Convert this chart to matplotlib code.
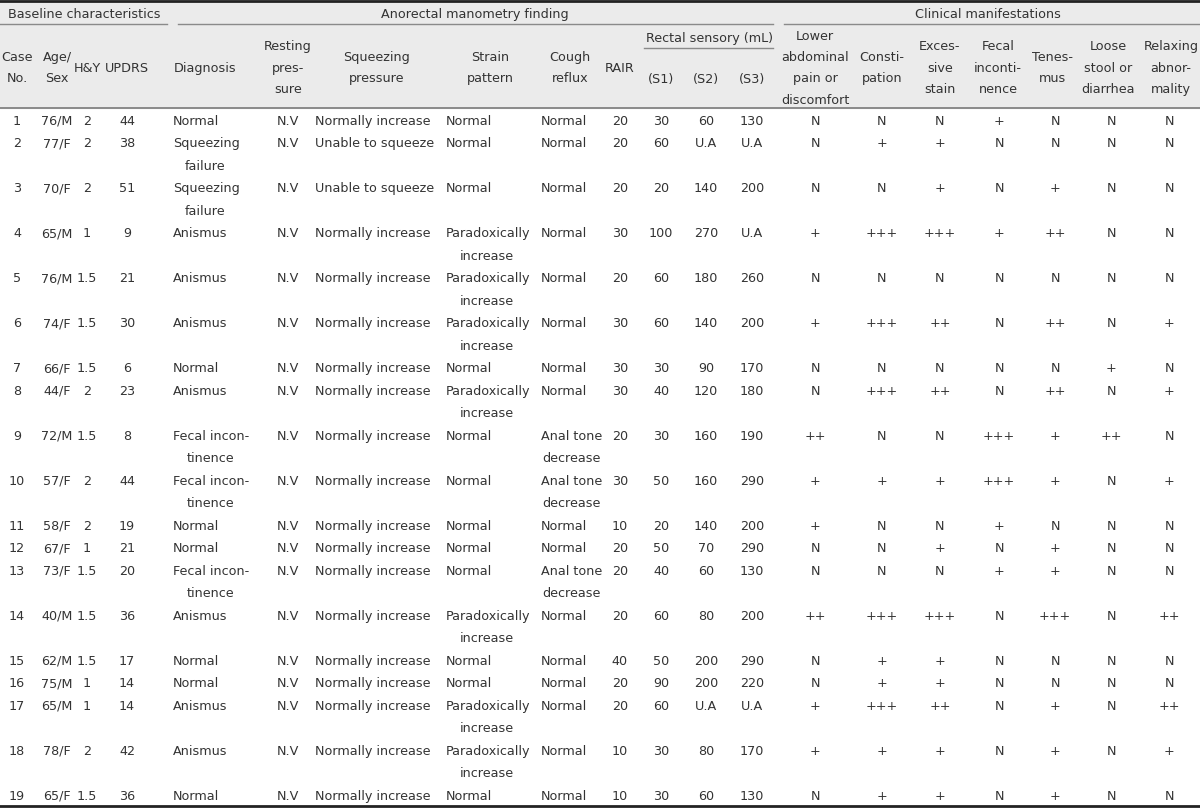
import numpy as np
import matplotlib
matplotlib.use('Agg')
import matplotlib.pyplot as plt
from matplotlib.textpath import TextPath
from matplotlib.font_manager import FontProperties

# table data, one list per column
case_no = [str(i) for i in range(1, 20)]
age_sex = ['76/M', '77/F', '70/F', '65/M', '76/M', '74/F', '66/F', '44/F', '72/M', '57/F',
           '58/F', '67/F', '73/F', '40/M', '62/M', '75/M', '65/M', '78/F', '65/F']
hy = ['2', '2', '2', '1', '1.5', '1.5', '1.5', '2', '1.5', '2',
      '2', '1', '1.5', '1.5', '1.5', '1', '1', '2', '1.5']
updrs = ['44', '38', '51', '9', '21', '30', '6', '23', '8', '44',
         '19', '21', '20', '36', '17', '14', '14', '42', '36']
diagnosis = ['Normal', 'Squeezing\nfailure', 'Squeezing\nfailure', 'Anismus', 'Anismus',
             'Anismus', 'Normal', 'Anismus', 'Fecal incon-\ntinence', 'Fecal incon-\ntinence',
             'Normal', 'Normal', 'Fecal incon-\ntinence', 'Anismus', 'Normal', 'Normal',
             'Anismus', 'Anismus', 'Normal']
resting = ['N.V'] * 19
squeezing = ['Normally increase', 'Unable to squeeze', 'Unable to squeeze'] + ['Normally increase'] * 16
PI = 'Paradoxically\nincrease'
strain = ['Normal', 'Normal', 'Normal', PI, PI, PI, 'Normal', PI, 'Normal', 'Normal',
          'Normal', 'Normal', 'Normal', PI, 'Normal', 'Normal', PI, PI, 'Normal']
AT = 'Anal tone\ndecrease'
cough = ['Normal'] * 8 + [AT, AT, 'Normal', 'Normal', AT] + ['Normal'] * 6
rair = ['20', '20', '20', '30', '20', '30', '30', '30', '20', '30',
        '10', '20', '20', '20', '40', '20', '20', '10', '10']
s1 = ['30', '60', '20', '100', '60', '60', '30', '40', '30', '50',
      '20', '50', '40', '60', '50', '90', '60', '30', '30']
s2 = ['60', 'U.A', '140', '270', '180', '140', '90', '120', '160', '160',
      '140', '70', '60', '80', '200', '200', 'U.A', '80', '60']
s3 = ['130', 'U.A', '200', 'U.A', '260', '200', '170', '180', '190', '290',
      '200', '290', '130', '200', '290', '220', 'U.A', '170', '130']
lower_abd = ['N', 'N', 'N', '+', 'N', '+', 'N', 'N', '++', '+',
             '+', 'N', 'N', '++', 'N', 'N', '+', '+', 'N']
constip = ['N', '+', 'N', '+++', 'N', '+++', 'N', '+++', 'N', '+',
           'N', 'N', 'N', '+++', '+', '+', '+++', '+', '+']
excess = ['N', '+', '+', '+++', 'N', '++', 'N', '++', 'N', '+',
          'N', '+', 'N', '+++', '+', '+', '++', '+', '+']
fecal = ['+', 'N', 'N', '+', 'N', 'N', 'N', 'N', '+++', '+++',
         '+', 'N', '+', 'N', 'N', 'N', 'N', 'N', 'N']
tenesmus = ['N', 'N', '+', '++', 'N', '++', 'N', '++', '+', '+',
            'N', '+', '+', '+++', 'N', 'N', '+', '+', '+']
loose = ['N', 'N', 'N', 'N', 'N', 'N', '+', 'N', '++', 'N',
         'N', 'N', 'N', 'N', 'N', 'N', 'N', 'N', 'N']
relax = ['N', 'N', 'N', 'N', 'N', '+', 'N', '+', 'N', '+',
         'N', 'N', 'N', '++', 'N', 'N', '++', '+', 'N']

headers = ['Case\nNo.', 'Age/\nSex', 'H&Y', 'UPDRS', 'Diagnosis', 'Resting\npres-\nsure',
           'Squeezing\npressure', 'Strain\npattern', 'Cough\nreflux', 'RAIR', '(S1)', '(S2)', '(S3)',
           'Lower\nabdominal\npain or\ndiscomfort', 'Consti-\npation', 'Exces-\nsive\nstain',
           'Fecal\ninconti-\nnence', 'Tenes-\nmus', 'Loose\nstool or\ndiarrhea',
           'Relaxing\nabnor-\nmality']
columns = [case_no, age_sex, hy, updrs, diagnosis, resting, squeezing, strain, cough, rair,
           s1, s2, s3, lower_abd, constip, excess, fecal, tenesmus, loose, relax]

# layout (pixel coords on a 1200x808 canvas)
col_x = [17, 57, 87, 127, 173, 288, 315, 446, 541, 620, 661, 706, 752,
         815, 882, 940, 999, 1055, 1111, 1169]
col_ha = ['center'] * 4 + ['left', 'center', 'left', 'left', 'left'] + ['center'] * 11
head_x = [17, 57, 87, 127, 205, 288, 377, 490, 570, 620, 661, 706, 752,
          815, 882, 940, 998, 1053, 1108, 1171]
head_y = [67] * 10 + [78] * 3 + [67] * 7

TXT = '#333333'
FS = 9.2
fp = FontProperties(family='DejaVu Sans', size=FS)
px = FS * 100 / 72
BL = 4.7  # centre of cap height -> baseline offset, px


def put(x, y, s, ha):
    ax.text(x, y + BL, s, ha=ha, va='baseline', color=TXT, fontproperties=fp)


fig = plt.figure(figsize=(12, 8.08), dpi=100)
ax = fig.add_axes([0, 0, 1, 1])
ax.set_xlim(0, 1200)
ax.set_ylim(808, 0)
ax.axis('off')

# header background and rules
ax.axhspan(0, 108, color='#ebebeb', zorder=0)
ax.plot([0, 1200], [1, 1], color='#222222', lw=2)
ax.plot([0, 1200], [108, 108], color='#7a7a7a', lw=1.2)
ax.plot([0, 1200], [805.5, 805.5], color='#222222', lw=2)
ax.plot([0, 167], [24, 24], color='#8a8a8a', lw=1)
ax.plot([178, 773], [24, 24], color='#8a8a8a', lw=1)
ax.plot([784, 1200], [24, 24], color='#8a8a8a', lw=1)
ax.plot([644, 773], [48, 48], color='#8a8a8a', lw=1)

put(8, 13, 'Baseline characteristics', 'left')
put(475, 13, 'Anorectal manometry finding', 'center')
put(988, 13, 'Clinical manifestations', 'center')
put(709, 37, 'Rectal sensory (mL)', 'center')

HSTEP = 21.3
for h, x, yc in zip(headers, head_x, head_y):
    lines = h.split('\n')
    n = len(lines)
    for i, ln in enumerate(lines):
        put(x, yc + (i - (n - 1) / 2) * HSTEP, ln, 'center')

# body rows
STEP = 22.5
y = 120
for r in range(19):
    nl = max(len(col[r].split('\n')) for col in columns)
    for col, x, ha in zip(columns, col_x, col_ha):
        lines = col[r].split('\n')
        if len(lines) == 1:
            put(x, y, lines[0], ha)
        else:
            w1 = TextPath((0, 0), lines[0], size=px, prop=fp).get_extents().width
            put(x, y, lines[0], 'left')
            for i, ln in enumerate(lines[1:], 1):
                put(x + w1 / 2, y + i * STEP, ln, 'center')
    y += nl * STEP

fig.savefig('out.png', dpi=100)
